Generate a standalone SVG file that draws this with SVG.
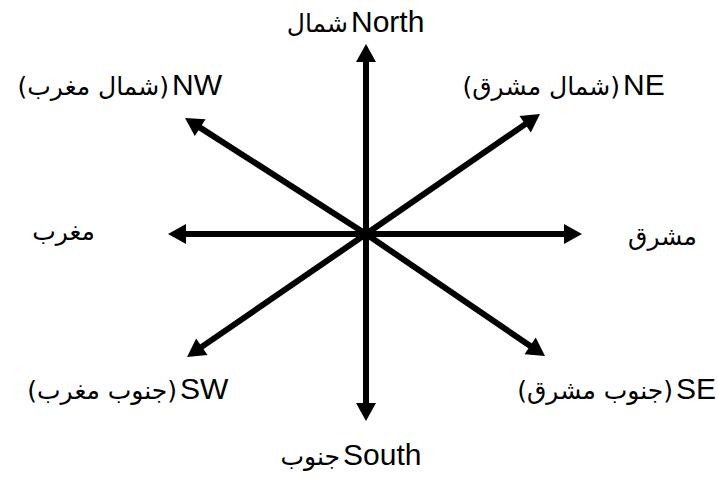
<svg xmlns="http://www.w3.org/2000/svg" width="718" height="479" viewBox="0 0 718 479">
<style>
.lat{font-family:"Liberation Sans",Arial,sans-serif;font-size:30px;fill:#000}
.ur{font-family:"DejaVu Sans","Noto Sans",sans-serif;font-size:25px;fill:#000}
.ax{stroke:#000;stroke-width:6;fill:none;marker-end:url(#ah)}
</style>
<defs>
<marker id="ah" markerUnits="userSpaceOnUse" markerWidth="26" markerHeight="26" viewBox="-4 -13 26 26" refX="0" refY="0" orient="auto" overflow="visible">
<path d="M-2,-10 L16,0 L-2,10 Z" fill="#000"/>
</marker>
</defs>
<g id="connectors">
<path class="ax" d="M366,234 L366,60"/>
<path class="ax" d="M366,234 L366,405"/>
<path class="ax" d="M366,234 L184,234"/>
<path class="ax" d="M366,234 L566,234"/>
<path class="ax" d="M366,234 L198.5,126.6"/>
<path class="ax" d="M366,234 L526.8,123.1"/>
<path class="ax" d="M366,234 L200.2,347.9"/>
<path class="ax" d="M366,234 L531.8,347"/>
</g>
<g id="north"><text class="ur" x="348" y="32" text-anchor="end">شمال</text><text class="lat" x="351" y="32">North</text></g>
<g id="northwest"><text class="ur" x="169" y="95" text-anchor="end">(شمال مغرب)</text><text class="lat" x="172" y="95">NW</text></g>
<g id="northeast"><text class="ur" x="620" y="95" text-anchor="end">(شمال مشرق)</text><text class="lat" x="623" y="95">NE</text></g>
<g id="west"><text class="ur" x="95" y="240" text-anchor="end">مغرب</text></g>
<g id="east"><text class="ur" x="697" y="245" text-anchor="end">مشرق</text></g>
<g id="southwest"><text class="ur" x="177" y="399" text-anchor="end">(جنوب مغرب)</text><text class="lat" x="180" y="399">SW</text></g>
<g id="southeast"><text class="ur" x="673" y="399" text-anchor="end">(جنوب مشرق)</text><text class="lat" x="676" y="399">SE</text></g>
<g id="south"><text class="ur" x="340" y="465" text-anchor="end">جنوب</text><text class="lat" x="343" y="465">South</text></g>
</svg>
